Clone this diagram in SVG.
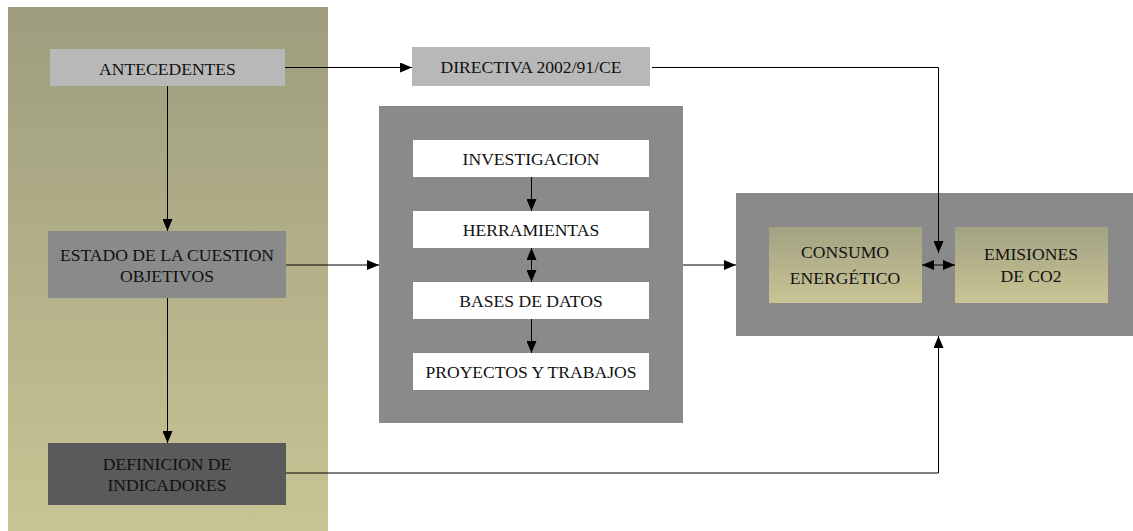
<svg xmlns="http://www.w3.org/2000/svg" width="1133" height="531" viewBox="0 0 1133 531">
  <defs>
    <linearGradient id="olive" x1="0" y1="0" x2="0" y2="1">
      <stop offset="0" stop-color="#9d9d7e"/>
      <stop offset="1" stop-color="#c9c494"/>
    </linearGradient>
    <linearGradient id="oliveBox" x1="0" y1="0" x2="0" y2="1">
      <stop offset="0" stop-color="#a2a283"/>
      <stop offset="1" stop-color="#c9c494"/>
    </linearGradient>
    <marker id="arrow" markerUnits="userSpaceOnUse" markerWidth="12" markerHeight="10" refX="12" refY="5" orient="auto-start-reverse">
      <path d="M0,0 L12,5 L0,10 z" fill="#000"/>
    </marker>
    <style>
      .lbl { font-family: "Liberation Serif", "Times New Roman", serif; font-size: 17.6px; fill: #111; text-anchor: middle; }
      .conn { fill: none; stroke: #000; stroke-width: 1; }
      .light { fill: #b8b8b8; }
      .mid { fill: #8a8a8a; }
      .dark { fill: #5a5a5a; }
      .white { fill: #ffffff; }
    </style>
  </defs>

  <rect width="1133" height="531" fill="#ffffff"/>

  <!-- left olive band -->
  <rect id="band" x="8" y="7" width="320" height="524" fill="url(#olive)"/>

  <g id="antecedentes">
    <rect class="light" x="50" y="49" width="235" height="37"/>
    <text class="lbl" x="167.5" y="75">ANTECEDENTES</text>
  </g>

  <g id="estado">
    <rect class="mid" x="48" y="231" width="238" height="67"/>
    <text class="lbl" x="167" y="261">ESTADO DE LA CUESTION</text>
    <text class="lbl" x="167" y="282">OBJETIVOS</text>
  </g>

  <g id="definicion">
    <rect class="dark" x="48" y="443" width="238" height="62"/>
    <text class="lbl" x="167" y="470">DEFINICION DE</text>
    <text class="lbl" x="167" y="491">INDICADORES</text>
  </g>

  <g id="directiva">
    <rect class="light" x="412" y="47" width="238" height="39"/>
    <text class="lbl" x="531" y="73">DIRECTIVA 2002/91/CE</text>
  </g>

  <g id="recursos">
    <rect class="mid" x="379" y="106" width="304" height="317"/>
    <g id="investigacion">
      <rect class="white" x="413" y="140" width="236" height="37"/>
      <text class="lbl" x="531" y="165">INVESTIGACION</text>
    </g>
    <g id="herramientas">
      <rect class="white" x="413" y="211" width="236" height="37"/>
      <text class="lbl" x="531" y="236">HERRAMIENTAS</text>
    </g>
    <g id="bases">
      <rect class="white" x="413" y="282" width="236" height="37"/>
      <text class="lbl" x="531" y="307">BASES DE DATOS</text>
    </g>
    <g id="proyectos">
      <rect class="white" x="413" y="353" width="236" height="37"/>
      <text class="lbl" x="531" y="378">PROYECTOS Y TRABAJOS</text>
    </g>
  </g>

  <g id="resultados">
    <rect class="mid" x="736" y="193" width="397" height="143"/>
    <g id="consumo">
      <rect x="769" y="227" width="153" height="76" fill="url(#oliveBox)"/>
      <text class="lbl" x="845" y="258">CONSUMO</text>
      <text class="lbl" x="845" y="284">ENERGÉTICO</text>
    </g>
    <g id="emisiones">
      <rect x="955" y="227" width="153" height="76" fill="url(#oliveBox)"/>
      <text class="lbl" x="1031" y="260">EMISIONES</text>
      <text class="lbl" x="1031" y="282">DE CO2</text>
    </g>
  </g>

  <g id="connectors">
    <line class="conn" x1="167.5" y1="86" x2="167.5" y2="231" marker-end="url(#arrow)"/>
    <line class="conn" x1="167.5" y1="298" x2="167.5" y2="443" marker-end="url(#arrow)"/>
    <line class="conn" x1="285" y1="67.5" x2="412" y2="67.5" marker-end="url(#arrow)"/>
    <polyline class="conn" points="652,67.5 938.5,67.5 938.5,253" marker-end="url(#arrow)"/>
    <line class="conn" x1="286" y1="265" x2="379" y2="265" marker-end="url(#arrow)"/>
    <line class="conn" x1="531.5" y1="177" x2="531.5" y2="211" marker-end="url(#arrow)"/>
    <line class="conn" x1="531.5" y1="248" x2="531.5" y2="282" marker-start="url(#arrow)" marker-end="url(#arrow)"/>
    <line class="conn" x1="531.5" y1="319" x2="531.5" y2="353" marker-end="url(#arrow)"/>
    <line class="conn" x1="683" y1="265" x2="736" y2="265" marker-end="url(#arrow)"/>
    <line class="conn" x1="922" y1="265" x2="955" y2="265" marker-start="url(#arrow)" marker-end="url(#arrow)"/>
    <polyline class="conn" points="286,473 938.5,473 938.5,336" marker-end="url(#arrow)"/>
  </g>
</svg>
